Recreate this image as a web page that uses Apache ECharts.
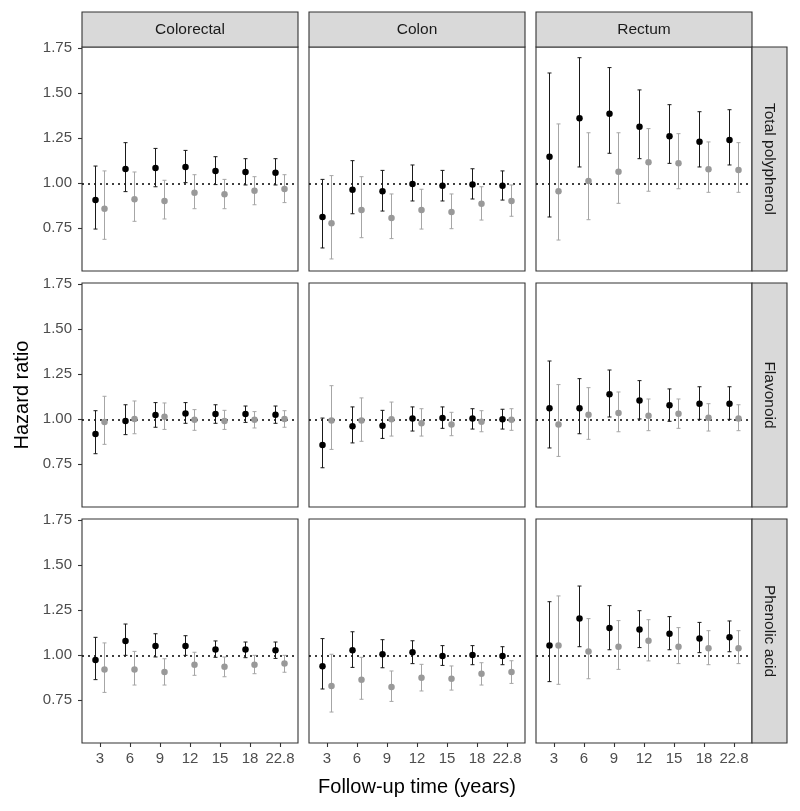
<!DOCTYPE html>
<html>
<head>
<meta charset="utf-8">
<script src="https://cdn.jsdelivr.net/npm/echarts@6/dist/echarts.min.js"></script>
<style>html,body{margin:0;padding:0;background:#fff;}#c{width:800px;height:811px;}</style>
</head>
<body>
<div id="c"></div>
<script>
// ---- data ----
const categories = ['3', '6', '9', '12', '15', '18', '22.8'];
const cancers = ['Colorectal', 'Colon', 'Rectum'];
const exposures = ['Total polyphenol', 'Flavonoid', 'Phenolic acid'];
const yTicks = [0.75, 1.00, 1.25, 1.50, 1.75];
const seriesNames = ['Model 1', 'Model 2'];
// each row: [HR, lower CI, upper CI] per follow-up category
const tpColorectal1 = [[0.907,0.746,1.096],[1.080,0.954,1.226],[1.085,0.981,1.194],[1.091,1.004,1.183],[1.069,0.993,1.148],[1.063,0.991,1.137],[1.059,0.991,1.137]];
const tpColorectal2 = [[0.859,0.689,1.069],[0.911,0.789,1.063],[0.902,0.802,1.017],[0.948,0.859,1.048],[0.939,0.859,1.022],[0.959,0.881,1.037],[0.969,0.893,1.048]];
const tpColon1 = [[0.813,0.641,1.022],[0.965,0.831,1.126],[0.956,0.846,1.072],[0.996,0.902,1.102],[0.987,0.902,1.072],[0.993,0.913,1.081],[0.987,0.907,1.069]];
const tpColon2 = [[0.778,0.580,1.043],[0.852,0.698,1.037],[0.807,0.693,0.941],[0.852,0.746,0.967],[0.841,0.748,0.941],[0.887,0.796,0.981],[0.902,0.817,0.991]];
const tpRectum1 = [[1.148,0.813,1.613],[1.361,1.091,1.698],[1.387,1.167,1.643],[1.315,1.137,1.519],[1.261,1.111,1.437],[1.231,1.091,1.398],[1.241,1.102,1.409]];
const tpRectum2 = [[0.956,0.685,1.330],[1.013,0.798,1.281],[1.065,0.889,1.281],[1.117,0.956,1.304],[1.111,0.970,1.276],[1.078,0.950,1.230],[1.074,0.950,1.226]];
const flColorectal1 = [[0.919,0.809,1.048],[0.991,0.915,1.081],[1.024,0.956,1.093],[1.033,0.978,1.093],[1.030,0.978,1.081],[1.030,0.983,1.074],[1.026,0.978,1.074]];
const flColorectal2 = [[0.985,0.861,1.128],[1.002,0.920,1.102],[1.015,0.944,1.091],[0.998,0.939,1.054],[0.991,0.944,1.050],[0.998,0.952,1.043],[1.002,0.956,1.048]];
const flColon1 = [[0.857,0.731,1.007],[0.961,0.869,1.069],[0.965,0.894,1.050],[1.004,0.935,1.069],[1.007,0.950,1.069],[1.004,0.946,1.059],[1.000,0.946,1.056]];
const flColon2 = [[0.993,0.833,1.187],[0.993,0.878,1.119],[1.000,0.907,1.096],[0.978,0.907,1.059],[0.972,0.909,1.039],[0.987,0.931,1.048],[0.998,0.939,1.059]];
const flRectum1 = [[1.061,0.841,1.324],[1.061,0.920,1.226],[1.139,1.013,1.274],[1.104,1.002,1.215],[1.078,0.989,1.169],[1.087,1.000,1.181],[1.087,1.000,1.181]];
const flRectum2 = [[0.972,0.794,1.193],[1.026,0.889,1.176],[1.035,0.931,1.152],[1.020,0.937,1.113],[1.031,0.950,1.113],[1.009,0.935,1.087],[1.004,0.937,1.081]];
const paColorectal1 = [[0.974,0.865,1.100],[1.080,1.000,1.174],[1.052,0.991,1.120],[1.052,1.000,1.109],[1.033,0.989,1.080],[1.033,0.987,1.074],[1.028,0.983,1.074]];
const paColorectal2 = [[0.922,0.794,1.069],[0.922,0.835,1.022],[0.907,0.835,0.981],[0.948,0.889,1.017],[0.937,0.881,0.991],[0.948,0.898,1.000],[0.954,0.906,1.000]];
const paColon1 = [[0.939,0.813,1.093],[1.028,0.933,1.131],[1.006,0.931,1.087],[1.017,0.954,1.081],[0.996,0.944,1.054],[1.002,0.948,1.054],[0.996,0.948,1.048]];
const paColon2 = [[0.830,0.685,1.006],[0.865,0.756,0.989],[0.824,0.744,0.913],[0.876,0.802,0.950],[0.870,0.807,0.941],[0.898,0.835,0.959],[0.907,0.844,0.970]];
const paRectum1 = [[1.054,0.854,1.298],[1.204,1.048,1.385],[1.152,1.031,1.276],[1.143,1.043,1.248],[1.120,1.031,1.215],[1.094,1.015,1.183],[1.100,1.020,1.191]];
const paRectum2 = [[1.054,0.839,1.330],[1.022,0.870,1.204],[1.048,0.922,1.193],[1.081,0.969,1.198],[1.048,0.954,1.154],[1.039,0.948,1.137],[1.039,0.954,1.137]];

const panels = [
  [[tpColorectal1, tpColorectal2], [tpColon1, tpColon2], [tpRectum1, tpRectum2]],
  [[flColorectal1, flColorectal2], [flColon1, flColon2], [flRectum1, flRectum2]],
  [[paColorectal1, paColorectal2], [paColon1, paColon2], [paRectum1, paRectum2]]
];

// ---- layout / style ----
const FONT = "'Liberation Sans', Arial, sans-serif";
const colLeft = [82, 309, 536];
const panelW = 216;
const rowTop = [47, 283, 519];
const panelH = 224;
const stripTop = 12, stripH = 35, stripW = 35;
const colors = ['#000000', '#999999'];
const barColors = ['#1a1a1a', '#a6a6a6'];
const dodge = [-0.15, 0.15];
const xMin = 0.4, xMax = 7.6;
const yMin = 0.5130, yMax = 1.7574;

const grids = [], xAxes = [], yAxes = [], series = [], graphics = [];

function errRender(color) {
  return function (params, api) {
    const x = api.value(0);
    const lo = api.coord([x, api.value(2)]);
    const hi = api.coord([x, api.value(3)]);
    const w = 2;
    const st = { stroke: color, lineWidth: 1 };
    return {
      type: 'group',
      children: [
        { type: 'line', shape: { x1: lo[0], y1: lo[1], x2: hi[0], y2: hi[1] }, style: st },
        { type: 'line', shape: { x1: lo[0] - w, y1: lo[1], x2: lo[0] + w, y2: lo[1] }, style: st },
        { type: 'line', shape: { x1: hi[0] - w, y1: hi[1], x2: hi[0] + w, y2: hi[1] }, style: st }
      ]
    };
  };
}

for (let r = 0; r < 3; r++) {
  for (let c = 0; c < 3; c++) {
    const gi = r * 3 + c;
    grids.push({
      left: colLeft[c], top: rowTop[r], width: panelW, height: panelH,
      show: true, borderColor: '#333333', borderWidth: 1.1, backgroundColor: '#ffffff'
    });
    xAxes.push({
      type: 'value', gridIndex: gi, min: xMin, max: xMax,
      axisLine: { show: false },
      splitLine: { show: false },
      axisTick: { show: r === 2, length: 4, lineStyle: { color: '#333333', width: 1.1 }, customValues: [1, 2, 3, 4, 5, 6, 7] },
      axisLabel: {
        show: r === 2, customValues: [1, 2, 3, 4, 5, 6, 7],
        formatter: v => categories[Math.round(v) - 1],
        color: '#4d4d4d', fontSize: 15, fontFamily: FONT, margin: 8
      }
    });
    yAxes.push({
      type: 'value', gridIndex: gi, min: yMin, max: yMax,
      axisLine: { show: false },
      splitLine: { show: false },
      axisTick: { show: c === 0, length: 4, lineStyle: { color: '#333333', width: 1.1 }, customValues: yTicks },
      axisLabel: {
        show: c === 0, customValues: yTicks,
        formatter: v => v.toFixed(2),
        color: '#4d4d4d', fontSize: 15, fontFamily: FONT, margin: 10
      }
    });
    const pdata = panels[r][c];
    for (let m = 0; m < 2; m++) {
      const d = pdata[m].map((t, i) => [i + 1 + dodge[m], t[0], t[1], t[2]]);
      series.push({
        type: 'custom', name: seriesNames[m], xAxisIndex: gi, yAxisIndex: gi,
        renderItem: errRender(barColors[m]),
        encode: { x: 0, y: [1, 2, 3] },
        data: d, silent: true, z: 3 + m * 2
      });
      const s = {
        type: 'scatter', name: seriesNames[m], xAxisIndex: gi, yAxisIndex: gi,
        symbol: 'circle', symbolSize: 6.5,
        itemStyle: { color: colors[m], opacity: 1 },
        data: d.map(p => [p[0], p[1]]), silent: true, z: 4 + m * 2
      };
      if (m === 0) {
        s.markLine = {
          silent: true, symbol: ['none', 'none'], label: { show: false },
          lineStyle: { color: '#000000', type: [2, 4], width: 1.6 },
          data: [{ yAxis: 1 }], z: 2
        };
      }
      series.push(s);
    }
  }
}

// strips
for (let c = 0; c < 3; c++) {
  graphics.push({
    type: 'rect', shape: { x: colLeft[c], y: stripTop, width: panelW, height: stripH },
    style: { fill: '#d9d9d9', stroke: '#333333', lineWidth: 1.1 }, silent: true
  });
  graphics.push({
    type: 'text', x: colLeft[c] + panelW / 2, y: stripTop + stripH / 2,
    style: { text: cancers[c], align: 'center', verticalAlign: 'middle', fill: '#1a1a1a', font: '15.5px ' + FONT },
    silent: true
  });
}
const stripX = colLeft[2] + panelW;
for (let r = 0; r < 3; r++) {
  graphics.push({
    type: 'rect', shape: { x: stripX, y: rowTop[r], width: stripW, height: panelH },
    style: { fill: '#d9d9d9', stroke: '#333333', lineWidth: 1.1 }, silent: true
  });
  graphics.push({
    type: 'text', x: stripX + stripW / 2, y: rowTop[r] + panelH / 2, rotation: -Math.PI / 2,
    style: { text: exposures[r], align: 'center', verticalAlign: 'middle', fill: '#1a1a1a', font: '15.5px ' + FONT },
    silent: true
  });
}
// axis titles
graphics.push({
  type: 'text', x: (colLeft[0] + colLeft[2] + panelW) / 2, y: 787,
  style: { text: 'Follow-up time (years)', align: 'center', verticalAlign: 'middle', fill: '#000000', font: '20px ' + FONT },
  silent: true
});
graphics.push({
  type: 'text', x: 22, y: rowTop[1] + panelH / 2, rotation: Math.PI / 2,
  style: { text: 'Hazard ratio', align: 'center', verticalAlign: 'middle', fill: '#000000', font: '20px ' + FONT },
  silent: true
});

const chart = echarts.init(document.getElementById('c'), null, { renderer: 'canvas' });
chart.setOption({
  animation: false,
  backgroundColor: '#ffffff',
  grid: grids, xAxis: xAxes, yAxis: yAxes, series: series,
  graphic: { elements: graphics }
});
</script>
</body>
</html>
